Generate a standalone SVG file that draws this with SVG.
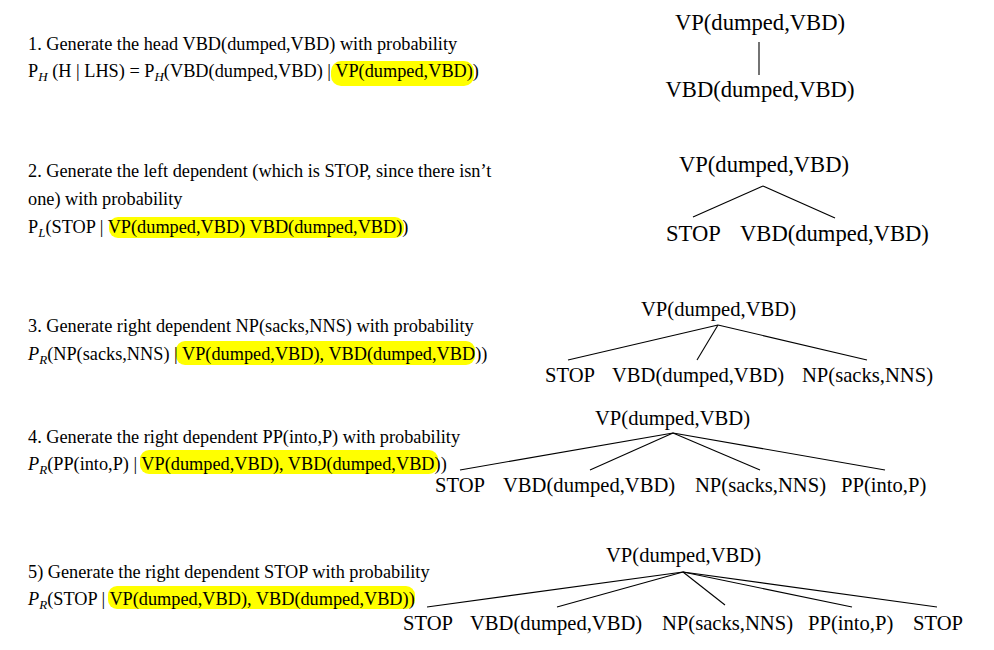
<svg xmlns="http://www.w3.org/2000/svg" width="994" height="650" viewBox="0 0 994 650">
<style>
.t{font-family:"Liberation Serif","Times New Roman",serif;font-size:18.3px;fill:#000}
.n1{font-family:"Liberation Serif","Times New Roman",serif;font-size:22.6px;fill:#000}
.n2{font-family:"Liberation Serif","Times New Roman",serif;font-size:20.6px;fill:#000}
.s{font-size:13px;font-style:italic}
.i{font-style:italic}
.hl{fill:#ffff00}
.e{stroke:#000;stroke-width:1.1;fill:none}
</style>
<rect width="994" height="650" fill="#fff"/>
<g id="highlights">
<rect class="hl" x="331" y="61" width="143" height="25" rx="10"/>
<rect class="hl" x="109" y="217" width="295" height="21" rx="9"/>
<rect class="hl" x="176" y="341" width="299" height="24" rx="9"/>
<rect class="hl" x="140" y="450" width="298" height="24" rx="9"/>
<rect class="hl" x="108" y="586" width="307" height="23" rx="9"/>
</g>
<g id="step1">
<text class="t" x="28" y="50">1. Generate the head VBD(dumped,VBD) with probability</text>
<text class="t" x="28" y="77">P<tspan class="s" dy="4">H</tspan><tspan dy="-4"> (H | LHS) = P</tspan><tspan class="s" dy="4">H</tspan><tspan dy="-4">(VBD(dumped,VBD) | VP(dumped,VBD))</tspan></text>
</g>
<g id="step2">
<text class="t" x="28" y="177">2. Generate the left dependent (which is STOP, since there isn’t</text>
<text class="t" x="28" y="205">one) with probability</text>
<text class="t" x="28" y="233">P<tspan class="s" dy="4">L</tspan><tspan dy="-4">(STOP | VP(dumped,VBD) VBD(dumped,VBD))</tspan></text>
</g>
<g id="step3">
<text class="t" x="28" y="332">3. Generate right dependent NP(sacks,NNS) with probability</text>
<text class="t" x="28" y="360"><tspan class="i">P</tspan><tspan class="s" dy="4">R</tspan><tspan dy="-4">(NP(sacks,NNS) | VP(dumped,VBD), VBD(dumped,VBD))</tspan></text>
</g>
<g id="step4">
<text class="t" x="28" y="443">4. Generate the right dependent PP(into,P) with probability</text>
<text class="t" x="28" y="470"><tspan class="i">P</tspan><tspan class="s" dy="4">R</tspan><tspan dy="-4">(PP(into,P) | VP(dumped,VBD), VBD(dumped,VBD))</tspan></text>
</g>
<g id="step5">
<text class="t" x="28" y="578">5) Generate the right dependent STOP with probability</text>
<text class="t" x="28" y="605"><tspan class="i">P</tspan><tspan class="s" dy="4">R</tspan><tspan dy="-4">(STOP | VP(dumped,VBD), VBD(dumped,VBD))</tspan></text>
</g>
<g id="connectors">
<line class="e" x1="759" y1="42" x2="759" y2="75"/>
<line class="e" x1="763" y1="186" x2="693" y2="217"/>
<line class="e" x1="763" y1="186" x2="835" y2="218"/>
<line class="e" x1="718" y1="325" x2="568" y2="360"/>
<line class="e" x1="718" y1="325" x2="697" y2="360"/>
<line class="e" x1="718" y1="325" x2="867" y2="360"/>
<line class="e" x1="673" y1="433" x2="460" y2="470"/>
<line class="e" x1="673" y1="433" x2="590" y2="470"/>
<line class="e" x1="673" y1="433" x2="760" y2="470"/>
<line class="e" x1="673" y1="433" x2="885" y2="470"/>
<line class="e" x1="683" y1="572" x2="427" y2="607"/>
<line class="e" x1="683" y1="572" x2="557" y2="607"/>
<line class="e" x1="683" y1="572" x2="725" y2="605"/>
<line class="e" x1="683" y1="572" x2="852" y2="607"/>
<line class="e" x1="683" y1="572" x2="937" y2="607"/>
</g>
<g id="tree1">
<text class="n1" x="760" y="30" text-anchor="middle">VP(dumped,VBD)</text>
<text class="n1" x="760" y="97" text-anchor="middle">VBD(dumped,VBD)</text>
</g>
<g id="tree2">
<text class="n1" x="764" y="172" text-anchor="middle">VP(dumped,VBD)</text>
<text class="n1" x="666" y="241">STOP</text>
<text class="n1" x="740" y="241">VBD(dumped,VBD)</text>
</g>
<g id="tree3">
<text class="n2" x="641" y="316">VP(dumped,VBD)</text>
<text class="n2" x="545" y="382">STOP</text>
<text class="n2" x="612" y="382">VBD(dumped,VBD)</text>
<text class="n2" x="802" y="382">NP(sacks,NNS)</text>
</g>
<g id="tree4">
<text class="n2" x="595" y="425">VP(dumped,VBD)</text>
<text class="n2" x="435" y="492">STOP</text>
<text class="n2" x="503" y="492">VBD(dumped,VBD)</text>
<text class="n2" x="695" y="492">NP(sacks,NNS)</text>
<text class="n2" x="841" y="492">PP(into,P)</text>
</g>
<g id="tree5">
<text class="n2" x="606" y="562">VP(dumped,VBD)</text>
<text class="n2" x="403" y="630">STOP</text>
<text class="n2" x="470" y="630">VBD(dumped,VBD)</text>
<text class="n2" x="662" y="630">NP(sacks,NNS)</text>
<text class="n2" x="808" y="630">PP(into,P)</text>
<text class="n2" x="913" y="630">STOP</text>
</g>
</svg>
